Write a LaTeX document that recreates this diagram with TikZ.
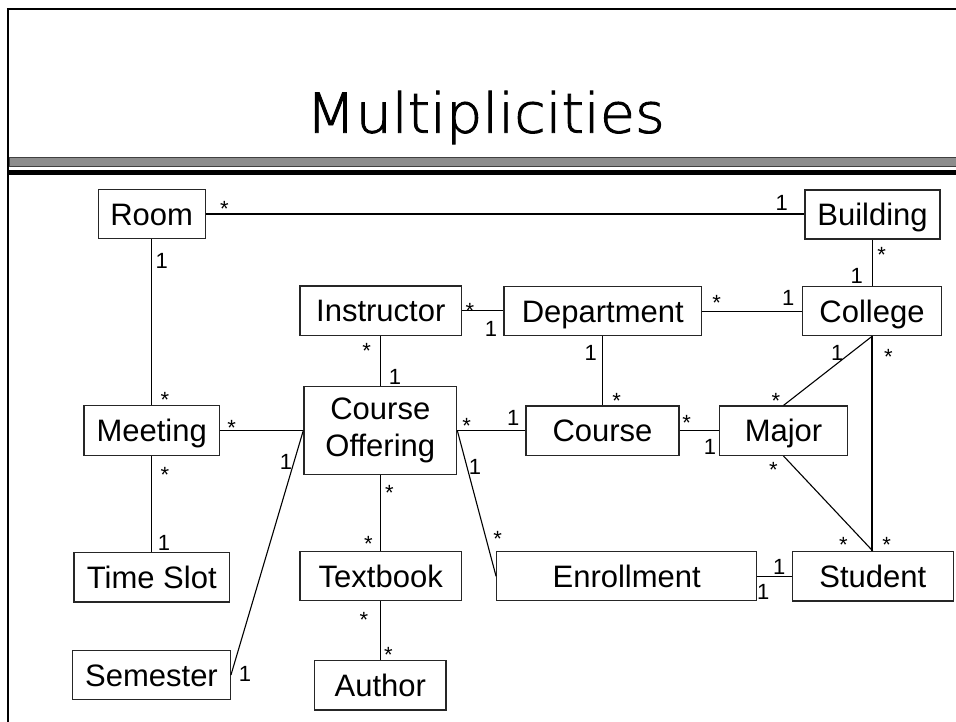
\documentclass[tikz,border=0pt]{standalone}
\usepackage{fontspec}
\setmainfont{Liberation Sans}
\newfontfamily\titlefont[FakeBold=1.6]{DejaVu Sans ExtraLight}
\begin{document}
\begin{tikzpicture}[x=1pt,y=-1pt,
  cls/.style={draw=black!85, line width=1.3pt, inner sep=0pt,
    font=\fontsize{31}{37}\selectfont, text height=22pt, text depth=0pt},
  assoc/.style={draw=black, line width=1.1pt},
  mult/.style={anchor=base, inner sep=0pt, font=\fontsize{22}{22}\selectfont}]
\useasboundingbox (0,0) rectangle (956,721);

% slide frame and title rule
\draw[line width=2.5pt] (8,9) -- (8,722);
\draw[line width=2.5pt] (6.75,9) -- (957,9);
\filldraw[fill={rgb,255:red,140;green,140;blue,140}, draw=black!75, line width=0.8pt]
  (9,157.5) rectangle (958,166.5);
\fill (9,169.5) rectangle (958,174.5);

\node[anchor=base, inner sep=0pt, font=\titlefont\fontsize{55}{60}\selectfont]
  (title) at (485.5,132.7) {\scalebox{1.04}[1]{Multiplicities}};

% classes
\node[cls, minimum width=107pt, minimum height=49.4pt] (room) at (151.7,214) {Room};
\node[cls, minimum width=135pt, minimum height=49pt] (building) at (872.5,214.5) {Building};
\node[cls, minimum width=161.7pt, minimum height=49.3pt] (instr) at (380.8,310.7) {Instructor};
\node[cls, minimum width=197.7pt, minimum height=49pt] (dept) at (602.8,311.2) {Department};
\node[cls, minimum width=139.4pt, minimum height=49pt] (college) at (872,311.2) {College};
\node[cls, minimum width=135.3pt, minimum height=50pt] (meeting) at (151.7,430.3) {Meeting};
\node[cls, minimum width=152.7pt, minimum height=87.6pt, text height=, text depth=, align=center]
  (offer) at (380.3,430.5) {Course\\Offering};
\node[cls, minimum width=153pt, minimum height=49.3pt] (course) at (602.5,430.7) {Course};
\node[cls, minimum width=128.4pt, minimum height=49.3pt] (major) at (783.5,430.7) {Major};
\node[cls, minimum width=155.7pt, minimum height=49.3pt] (slot) at (151.8,577.3) {Time Slot};
\node[cls, minimum width=161.3pt, minimum height=49pt] (textbook) at (380.7,576.2) {Textbook};
\node[cls, minimum width=260pt, minimum height=49pt] (enroll) at (626.7,576.2) {Enrollment};
\node[cls, minimum width=161pt, minimum height=49.3pt] (student) at (872.8,576.3) {Student};
\node[cls, minimum width=157.6pt, minimum height=48.6pt] (semester) at (151.5,675) {Semester};
\node[cls, minimum width=131.3pt, minimum height=49.3pt] (author) at (380.3,685.3) {Author\hspace{14pt}};

% associations
\draw[assoc] (room.east) -- (room.east -| building.west);
\draw[assoc] (room.south) -- (room.south |- meeting.north);
\draw[assoc] (building.south) -- (building.south |- college.north);
\draw[assoc] (instr.east) -- (instr.east -| dept.west);
\draw[assoc] (dept.east) -- (dept.east -| college.west);
\draw[assoc] (instr.south) -- (instr.south |- offer.north);
\draw[assoc] (dept.south) -- (dept.south |- course.north);
\draw[assoc] (meeting.east) -- (meeting.east -| offer.west);
\draw[assoc] (offer.east) -- (offer.east -| course.west);
\draw[assoc] (course.east) -- (course.east -| major.west);
\draw[assoc] (college.south) -- (major.north);
\draw[assoc] (college.south) -- (college.south |- student.north);
\draw[assoc] (major.south) -- (student.north);
\draw[assoc] (meeting.south) -- (meeting.south |- slot.north);
\draw[assoc] (offer.south) -- (offer.south |- textbook.north);
\draw[assoc] (textbook.south) -- (textbook.south |- author.north);
\draw[assoc] (offer.east) -- (enroll.west);
\draw[assoc] (semester.east) -- (offer.west);
\draw[assoc] (enroll.east) -- (enroll.east -| student.west);

% multiplicities
\node[mult] (m1) at (224.3,216.2) {*};
\node[mult] (m2) at (161.7,268.2) {1};
\node[mult] (m3) at (781.7,210.8) {1};
\node[mult] (m4) at (881.7,262.9) {*};
\node[mult] (m5) at (856.7,283.5) {1};
\node[mult] (m6) at (470,318.2) {*};
\node[mult] (m7) at (491,336.5) {1};
\node[mult] (m8) at (716.7,310.5) {*};
\node[mult] (m9) at (788.3,305.8) {1};
\node[mult] (m10) at (366.7,358.9) {*};
\node[mult] (m11) at (395,384.8) {1};
\node[mult] (m12) at (590.7,360.2) {1};
\node[mult] (m13) at (837.3,360.8) {1};
\node[mult] (m14) at (888.3,364.9) {*};
\node[mult] (m15) at (165,407.2) {*};
\node[mult] (m16) at (231.7,435.5) {*};
\node[mult] (m17) at (466.7,433.9) {*};
\node[mult] (m18) at (513.3,425.8) {1};
\node[mult] (m19) at (616.7,408.2) {*};
\node[mult] (m20) at (686.7,430.5) {*};
\node[mult] (m21) at (776,408.2) {*};
\node[mult] (m22) at (710,454.2) {1};
\node[mult] (m23) at (165,482.2) {*};
\node[mult] (m24) at (286,469.2) {1};
\node[mult] (m25) at (475,474.8) {1};
\node[mult] (m26) at (773.3,477.2) {*};
\node[mult] (m27) at (389.3,500.5) {*};
\node[mult] (m28) at (497.7,546.2) {*};
\node[mult] (m29) at (164,550.8) {1};
\node[mult] (m30) at (368.3,551.5) {*};
\node[mult] (m31) at (843.3,552.9) {*};
\node[mult] (m32) at (886.7,552.2) {*};
\node[mult] (m33) at (779.3,574.2) {1};
\node[mult] (m34) at (763.3,599.2) {1};
\node[mult] (m35) at (364,627.5) {*};
\node[mult] (m36) at (388.3,662.2) {*};
\node[mult] (m37) at (245,681.5) {1};
\end{tikzpicture}
\end{document}
